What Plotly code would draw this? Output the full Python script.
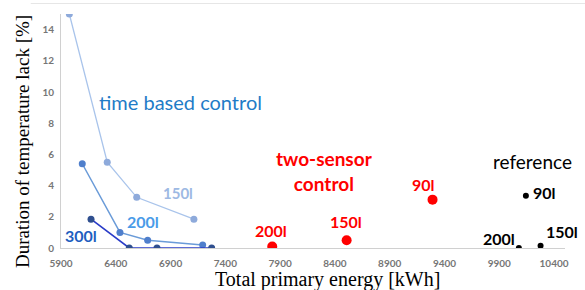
import plotly.graph_objects as go

# ---- data ----
energy_150 = [5976, 6322, 6591, 7113]
lack_150 = [15.0, 5.5, 3.25, 1.85]

energy_200 = [6094, 6438, 6691, 7193]
lack_200 = [5.4, 1.0, 0.5, 0.2]

energy_300 = [6174, 6523, 6776, 7275]
lack_300 = [1.85, 0.0, 0.0, 0.0]

two_sensor_labels = ["200l", "150l", "90l"]
two_sensor_energy = [7828, 8507, 9291]
two_sensor_lack = [0.1, 0.5, 3.1]

reference_labels = ["200l", "150l", "90l"]
reference_energy = [10079, 10277, 10143]
reference_lack = [0.0, 0.15, 3.35]

x_ticks = [5900, 6400, 6900, 7400, 7900, 8400, 8900, 9400, 9900, 10400]
y_ticks = [0, 2, 4, 6, 8, 10, 12, 14]

fig = go.Figure()

fig.add_trace(go.Scatter(x=energy_150, y=lack_150, mode="lines+markers",
                         line=dict(color="#a9c4eb", width=1.3),
                         marker=dict(color="#8eaadb", size=7), showlegend=False))
fig.add_trace(go.Scatter(x=energy_200, y=lack_200, mode="lines+markers",
                         line=dict(color="#6a9bd8", width=1.5),
                         marker=dict(color="#4f7fcc", size=7), showlegend=False))
fig.add_trace(go.Scatter(x=energy_300, y=lack_300, mode="lines+markers",
                         line=dict(color="#2a3cc8", width=1.6),
                         marker=dict(color="#2f4f8f", size=7), showlegend=False))
fig.add_trace(go.Scatter(x=two_sensor_energy, y=two_sensor_lack, mode="markers",
                         marker=dict(color="#ff0000", size=10), showlegend=False))
fig.add_trace(go.Scatter(x=reference_energy, y=reference_lack, mode="markers",
                         marker=dict(color="#000000", size=6), showlegend=False))

lab = "Lato"
annotations = [
    dict(x=6995, y=9.38, text="time based control", font=dict(family=lab, size=20, color="#1f7cc7")),
    dict(x=6967, y=3.53, text="<b>150l</b>", font=dict(family=lab, size=15, color="#9db9e3")),
    dict(x=6648, y=1.73, text="<b>200l</b>", font=dict(family=lab, size=16, color="#4a9be8")),
    dict(x=6087, y=0.83, text="<b>300l</b>", font=dict(family=lab, size=16, color="#1f5fbf")),
    dict(x=8309, y=4.94, text="<b>two-sensor<br>control</b>", font=dict(family=lab, size=19, color="#ff0000")),
    dict(x=9212, y=4.1, text="<b>90l</b>", font=dict(family=lab, size=16, color="#ff0000")),
    dict(x=8500, y=1.67, text="<b>150l</b>", font=dict(family=lab, size=16, color="#ff0000")),
    dict(x=7816, y=1.15, text="<b>200l</b>", font=dict(family=lab, size=16, color="#ff0000")),
    dict(x=10207, y=5.53, text="reference", font=dict(family=lab, size=19, color="#000000")),
    dict(x=10316, y=3.53, text="<b>90l</b>", font=dict(family=lab, size=16, color="#000000")),
    dict(x=9896, y=0.58, text="<b>200l</b>", font=dict(family=lab, size=16, color="#000000")),
    dict(x=10471, y=1.03, text="<b>150l</b>", font=dict(family=lab, size=16, color="#000000")),
]
for a in annotations:
    a.update(xref="x", yref="y", showarrow=False, xanchor="center", yanchor="middle")

# axis titles placed as paper annotations
annotations.append(dict(xref="paper", yref="paper", x=0.528, y=-0.1325, showarrow=False,
                        xanchor="center", yanchor="middle", text="Total primary energy [kWh]",
                        font=dict(family="Liberation Serif", size=20, color="#000000")))
annotations.append(dict(xref="paper", yref="paper", x=-0.0774, y=0.457, showarrow=False,
                        xanchor="center", yanchor="middle", textangle=-90,
                        text="Duration of temperature lack [%]",
                        font=dict(family="Liberation Serif", size=19, color="#000000")))

tick_font = dict(family=lab, size=10, color="#767676")

fig.update_layout(
    width=585, height=290, autosize=False,
    margin=dict(l=61, r=20, t=14, b=42, autoexpand=False),
    paper_bgcolor="white", plot_bgcolor="white",
    annotations=annotations,
    shapes=[dict(type="line", xref="paper", yref="paper", x0=-0.06, x1=1.04, y0=1.045, y1=1.045,
                 line=dict(color="#e6e6e6", width=1))],
    xaxis=dict(range=[5900, 10500], tickvals=x_ticks, ticktext=[f"<b>{v}</b>" for v in x_ticks],
               showgrid=False, zeroline=False, showline=True, linecolor="#d0d0d0", linewidth=1,
               ticks="", automargin=False, ticklabelstandoff=6, tickfont=tick_font),
    yaxis=dict(range=[0, 15], tickvals=y_ticks, ticktext=[f"<b>{v}</b>" for v in y_ticks],
               showgrid=False, zeroline=False, showline=True, linecolor="#d0d0d0", linewidth=1,
               ticks="", automargin=False, ticklabelstandoff=4, tickfont=tick_font),
)

fig.write_html("out.html", config={"displayModeBar": False},
               post_script="document.body.style.margin='0';")
